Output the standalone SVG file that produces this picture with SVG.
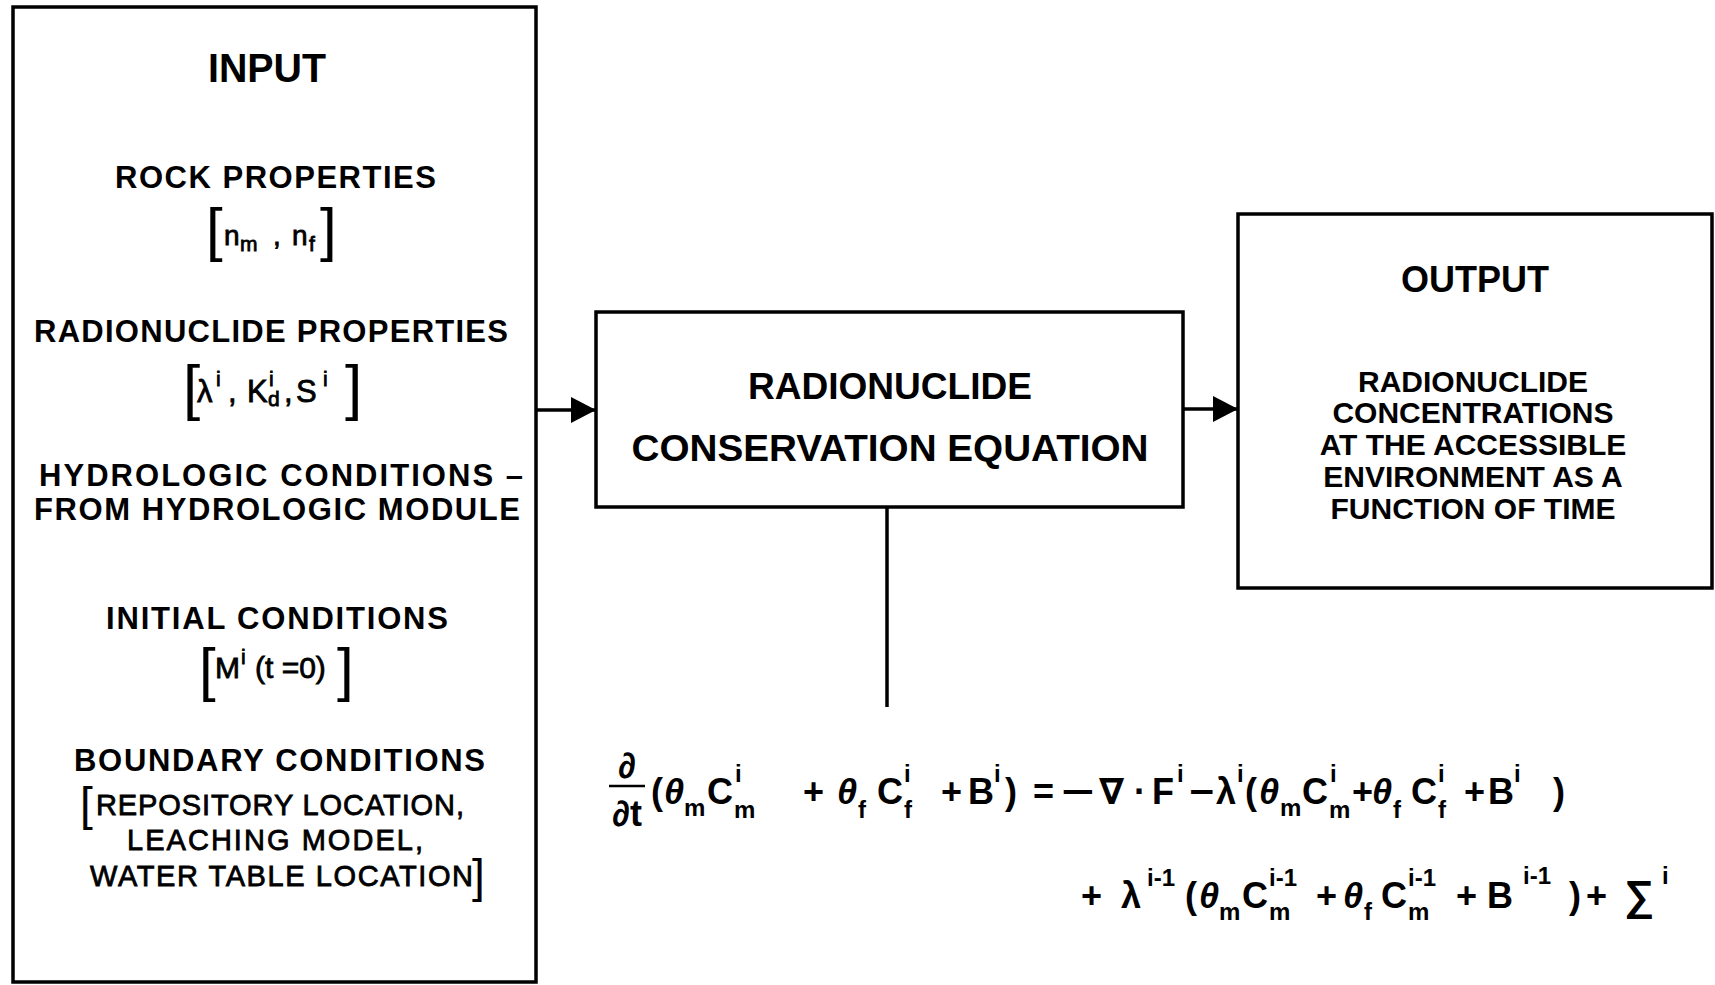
<svg xmlns="http://www.w3.org/2000/svg" width="1715" height="985" viewBox="0 0 1715 985">
<defs>
<marker id="ah" markerUnits="userSpaceOnUse" markerWidth="26" markerHeight="28" refX="25" refY="13" orient="auto">
<path d="M0,0 L25,13 L0,26 z" fill="#000"/>
</marker>
<style>
.box{fill:#fff;stroke:#000;stroke-width:3.5}
.ln{stroke:#000;stroke-width:3.5;fill:none}
.h{font-family:"Liberation Sans",Arial,sans-serif;font-weight:bold;fill:#000}
.s{font-family:"Liberation Sans",Arial,sans-serif;font-weight:bold;fill:#000}
.br{font-family:"Liberation Sans",Arial,sans-serif;font-weight:normal;fill:#000}
.th{stroke:#000;stroke-width:0.8}
.eq{font-family:"Liberation Sans","DejaVu Sans",sans-serif;font-weight:bold;font-size:36px;fill:#000}
.it{font-style:italic}
.sm{font-size:24px}
</style>
</defs>
<rect width="1715" height="985" fill="#fff"/>

<g id="input">
<rect class="box" x="13" y="7" width="523" height="975"/>
<text class="h" x="267" y="82" font-size="40" text-anchor="middle" textLength="118" lengthAdjust="spacingAndGlyphs">INPUT</text>
<text class="s" x="115" y="188" font-size="31" textLength="321" lengthAdjust="spacing">ROCK PROPERTIES</text>
<text class="br" x="206" y="250" font-size="60">[</text>
<text class="br th" font-size="28"><tspan x="224" y="245">n</tspan><tspan font-size="21" x="240" y="251">m</tspan><tspan x="273" y="245">,</tspan><tspan x="292" y="245">n</tspan><tspan font-size="21" x="309" y="251">f</tspan></text>
<text class="br" x="320" y="250" font-size="60">]</text>
<text class="s" x="34" y="342" font-size="31" textLength="474" lengthAdjust="spacing">RADIONUCLIDE PROPERTIES</text>
<text class="br" x="183" y="408" font-size="62">[</text>
<text class="br th" font-size="31"><tspan x="197" y="402">λ</tspan><tspan font-size="21" x="216" y="386">i</tspan><tspan x="228" y="402">,</tspan><tspan x="247" y="402">K</tspan><tspan font-size="21" x="269" y="386">i</tspan><tspan font-size="21" x="268" y="406">d</tspan><tspan x="284" y="402">,</tspan><tspan x="296" y="402">S</tspan><tspan font-size="21" x="323" y="386">i</tspan></text>
<text class="br" x="345" y="408" font-size="62">]</text>
<text class="s" x="39" y="486" font-size="31" textLength="484" lengthAdjust="spacing">HYDROLOGIC CONDITIONS –</text>
<text class="s" x="34" y="520" font-size="31" textLength="486" lengthAdjust="spacing">FROM HYDROLOGIC MODULE</text>
<text class="s" x="106" y="629" font-size="31" textLength="342" lengthAdjust="spacing">INITIAL CONDITIONS</text>
<text class="br" x="199" y="690" font-size="60">[</text>
<text class="br th" font-size="30"><tspan x="215" y="678">M</tspan><tspan font-size="21" x="241" y="664">i</tspan><tspan x="255" y="678">(t =0)</tspan></text>
<text class="br" x="337" y="690" font-size="60">]</text>
<text class="s" x="74" y="771" font-size="31" textLength="411" lengthAdjust="spacing">BOUNDARY CONDITIONS</text>
<text class="br" x="80" y="820" font-size="46">[</text>
<text class="br th" x="96" y="815" font-size="29" textLength="368" lengthAdjust="spacing">REPOSITORY LOCATION,</text>
<text class="br th" x="127" y="850" font-size="29" textLength="296" lengthAdjust="spacing">LEACHING MODEL,</text>
<text class="br th" x="90" y="886" font-size="29" textLength="383" lengthAdjust="spacing">WATER TABLE LOCATION</text>
<text class="br" x="472" y="892" font-size="46">]</text>
</g>

<g id="equation-box">
<rect class="box" x="596" y="312" width="587" height="195"/>
<text class="h" x="890" y="399" font-size="36" text-anchor="middle" textLength="284" lengthAdjust="spacingAndGlyphs">RADIONUCLIDE</text>
<text class="h" x="890" y="461" font-size="36" text-anchor="middle" textLength="517" lengthAdjust="spacingAndGlyphs">CONSERVATION EQUATION</text>
</g>

<g id="output">
<rect class="box" x="1238" y="214" width="474" height="374"/>
<text class="h" x="1475" y="292" font-size="36" text-anchor="middle">OUTPUT</text>
<text class="h" x="1473" y="392" font-size="30" text-anchor="middle">RADIONUCLIDE</text>
<text class="h" x="1473" y="423" font-size="30" text-anchor="middle">CONCENTRATIONS</text>
<text class="h" x="1473" y="455" font-size="30" text-anchor="middle">AT THE ACCESSIBLE</text>
<text class="h" x="1473" y="487" font-size="30" text-anchor="middle">ENVIRONMENT AS A</text>
<text class="h" x="1473" y="519" font-size="30" text-anchor="middle">FUNCTION OF TIME</text>
</g>

<g id="connectors">
<line class="ln" x1="536" y1="410" x2="596" y2="410" marker-end="url(#ah)"/>
<line class="ln" x1="1183" y1="409" x2="1238" y2="409" marker-end="url(#ah)"/>
<line class="ln" x1="887" y1="507" x2="887" y2="707"/>
</g>

<g id="conservation-equation">
<text class="eq it" x="627" y="778" font-size="36" text-anchor="middle">∂</text>
<line x1="609" y1="786" x2="645" y2="786" stroke="#000" stroke-width="2.5"/>
<text class="eq" x="627" y="826" font-size="36" text-anchor="middle"><tspan class="it">∂</tspan>t</text>
<text class="eq">
<tspan x="651" y="804">(</tspan>
<tspan class="it" x="664" y="804">θ</tspan><tspan class="sm" x="684" y="816">m</tspan>
<tspan x="707" y="804">C</tspan><tspan class="sm" x="735" y="782">i</tspan><tspan class="sm" x="734" y="818">m</tspan>
<tspan x="803" y="804">+</tspan>
<tspan class="it" x="837" y="804">θ</tspan><tspan class="sm" x="858" y="818">f</tspan>
<tspan x="877" y="804">C</tspan><tspan class="sm" x="904" y="782">i</tspan><tspan class="sm" x="904" y="818">f</tspan>
<tspan x="941" y="804">+</tspan>
<tspan x="968" y="804">B</tspan><tspan class="sm" x="994" y="782">i</tspan>
<tspan x="1005" y="804">)</tspan>
<tspan x="1033" y="804">=</tspan>
<tspan x="1099" y="804">∇</tspan>
<tspan x="1134" y="804">·</tspan>
<tspan x="1152" y="804">F</tspan><tspan class="sm" x="1177" y="782">i</tspan>
<tspan x="1216" y="804">λ</tspan><tspan class="sm" x="1237" y="782">i</tspan>
<tspan x="1245" y="804">(</tspan>
<tspan class="it" x="1259" y="804">θ</tspan><tspan class="sm" x="1280" y="816">m</tspan>
<tspan x="1302" y="804">C</tspan><tspan class="sm" x="1330" y="782">i</tspan><tspan class="sm" x="1329" y="818">m</tspan>
<tspan x="1352" y="804">+</tspan>
<tspan class="it" x="1372" y="804">θ</tspan><tspan class="sm" x="1393" y="818">f</tspan>
<tspan x="1411" y="804">C</tspan><tspan class="sm" x="1438" y="782">i</tspan><tspan class="sm" x="1438" y="818">f</tspan>
<tspan x="1464" y="804">+</tspan>
<tspan x="1488" y="804">B</tspan><tspan class="sm" x="1514" y="782">i</tspan>
<tspan x="1553" y="804">)</tspan>
</text>
<text class="eq" x="1061" y="804" textLength="33" lengthAdjust="spacingAndGlyphs">−</text>
<text class="eq" x="1189" y="804" textLength="25" lengthAdjust="spacingAndGlyphs">−</text>
<text class="eq">
<tspan x="1081" y="908">+</tspan>
<tspan x="1121" y="908">λ</tspan><tspan class="sm" x="1147" y="886">i-1</tspan>
<tspan x="1185" y="908">(</tspan>
<tspan class="it" x="1199" y="908">θ</tspan><tspan class="sm" x="1219" y="920">m</tspan>
<tspan x="1242" y="908">C</tspan><tspan class="sm" x="1269" y="886">i-1</tspan><tspan class="sm" x="1269" y="920">m</tspan>
<tspan x="1316" y="908">+</tspan>
<tspan class="it" x="1343" y="908">θ</tspan><tspan class="sm" x="1364" y="920">f</tspan>
<tspan x="1381" y="908">C</tspan><tspan class="sm" x="1408" y="886">i-1</tspan><tspan class="sm" x="1408" y="920">m</tspan>
<tspan x="1456" y="908">+</tspan>
<tspan x="1487" y="908">B</tspan><tspan class="sm" x="1523" y="884">i-1</tspan>
<tspan x="1569" y="908">)</tspan>
<tspan x="1586" y="908">+</tspan>
<tspan x="1624" y="910" font-size="42">∑</tspan><tspan class="sm" x="1662" y="884">i</tspan>
</text>
</g>
</svg>
